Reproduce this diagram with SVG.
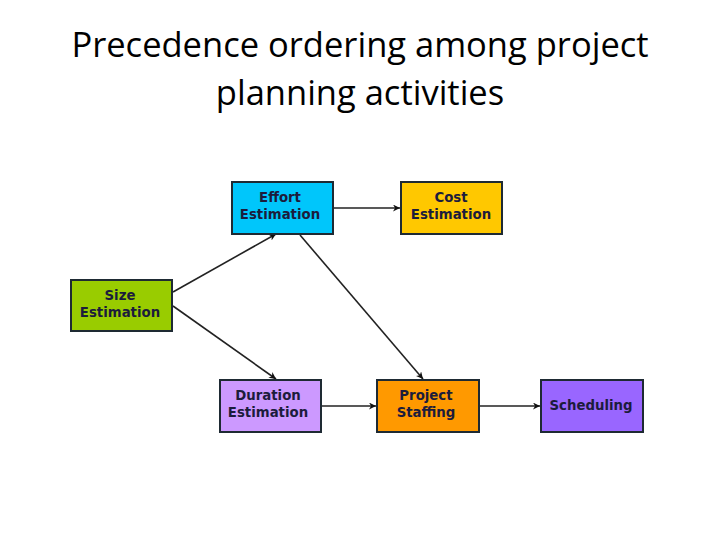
<svg xmlns="http://www.w3.org/2000/svg" width="720" height="540" viewBox="0 0 720 540">
<style>
.title{font-family:"Open Sans","Liberation Sans",sans-serif;font-size:34.5px;fill:#000;text-anchor:middle}
.box{stroke:#1e2a33;stroke-width:2}
.lbl{font-family:"DejaVu Sans",sans-serif;font-weight:bold;font-size:13.3px;fill:#1c1c3c;text-anchor:middle}
.conn{stroke:#222;stroke-width:1.6;fill:none;marker-end:url(#ah)}
</style>
<defs>
<marker id="ah" viewBox="0 0 10 10" refX="10" refY="5" markerWidth="7" markerHeight="7" orient="auto" markerUnits="userSpaceOnUse">
<path d="M0,0 L10,5 L0,10 L3,5 z" fill="#111"/>
</marker>
</defs>
<rect width="720" height="540" fill="#fff"/>
<text class="title" x="360" y="57">Precedence ordering among project</text>
<text class="title" x="360" y="105">planning activities</text>
<g id="connectors">
<line class="conn" x1="334" y1="208" x2="400" y2="208"/>
<line class="conn" x1="173" y1="292" x2="276" y2="234"/>
<line class="conn" x1="173" y1="306" x2="276" y2="379"/>
<line class="conn" x1="300" y1="235" x2="423" y2="379"/>
<line class="conn" x1="322" y1="406" x2="376" y2="406"/>
<line class="conn" x1="480" y1="406" x2="540" y2="406"/>
</g>
<g id="effort">
<rect class="box" x="232" y="182" width="101" height="52" fill="#00c6fb"/>
<text class="lbl" x="280" y="202">Effort</text>
<text class="lbl" x="280" y="219">Estimation</text>
</g>
<g id="cost">
<rect class="box" x="401" y="182" width="101" height="52" fill="#ffc800"/>
<text class="lbl" x="451" y="202">Cost</text>
<text class="lbl" x="451" y="219">Estimation</text>
</g>
<g id="size">
<rect class="box" x="71" y="280" width="101" height="51" fill="#99cc00"/>
<text class="lbl" x="120" y="300">Size</text>
<text class="lbl" x="120" y="317">Estimation</text>
</g>
<g id="duration">
<rect class="box" x="220" y="380" width="101" height="52" fill="#cc99ff"/>
<text class="lbl" x="268" y="400">Duration</text>
<text class="lbl" x="268" y="417">Estimation</text>
</g>
<g id="staffing">
<rect class="box" x="377" y="380" width="102" height="52" fill="#ff9900"/>
<text class="lbl" x="426" y="400">Project</text>
<text class="lbl" x="426" y="417">Staffing</text>
</g>
<g id="scheduling">
<rect class="box" x="541" y="380" width="102" height="52" fill="#9966ff"/>
<text class="lbl" x="591" y="410">Scheduling</text>
</g>
</svg>
